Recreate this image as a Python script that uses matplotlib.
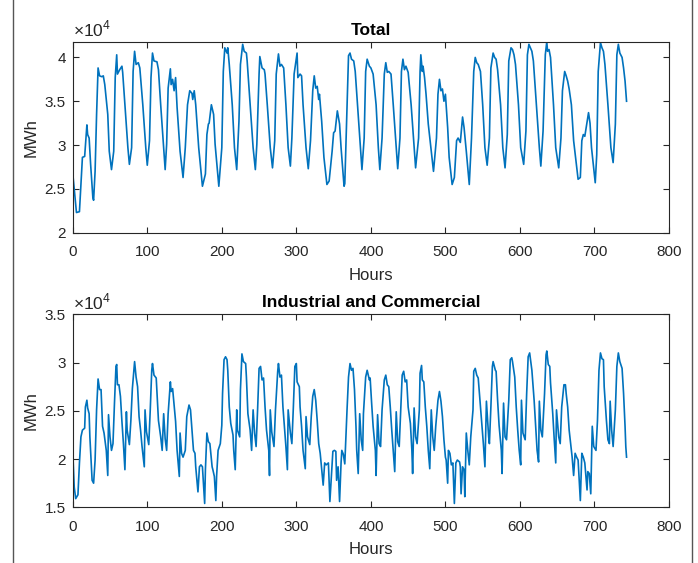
import numpy as np
import matplotlib
matplotlib.use("Agg")
import matplotlib.pyplot as plt
from matplotlib.lines import Line2D
from matplotlib.ticker import FuncFormatter

plt.rcParams['font.family'] = ['Liberation Sans', 'DejaVu Sans']
plt.rcParams['mathtext.fontset'] = 'custom'
plt.rcParams['mathtext.rm'] = 'Liberation Sans'

# ============================================================
# 数据（从图上读出，单位：1e4 MWh）
# ============================================================

hours_total = [0, 5, 9, 11, 13, 16, 19, 20, 22, 24, 27, 28, 30, 32, 34, 36, 39, 41, 43, 47,
               49, 52, 55, 57, 59, 60, 63, 66, 67, 70, 74, 76, 79, 81, 83, 85, 88, 90, 94, 98,
               100, 103, 105, 107, 109, 113, 115, 118, 122, 124, 126, 128, 131, 132, 134, 136, 138, 140, 144, 148,
               151, 154, 157, 160, 161, 163, 165, 169, 174, 178, 180, 182, 183, 186, 189, 191, 196, 200, 202, 204,
               207, 208, 210, 214, 217, 220, 223, 225, 228, 230, 233, 234, 238, 242, 245, 247, 250, 251, 254, 257,
               258, 261, 265, 268, 271, 273, 276, 278, 280, 283, 286, 289, 292, 294, 297, 301, 302, 305, 307, 309,
               313, 316, 319, 322, 324, 326, 328, 330, 331, 334, 337, 341, 344, 348, 350, 352, 355, 358, 360, 364,
               365, 368, 370, 372, 374, 377, 379, 382, 386, 388, 391, 393, 395, 398, 400, 403, 407, 410, 412, 415,
               418, 420, 422, 424, 427, 430, 434, 436, 439, 441, 443, 445, 447, 450, 454, 458, 460, 464, 466, 467,
               469, 470, 472, 474, 477, 481, 484, 488, 490, 492, 494, 496, 498, 500, 503, 505, 509, 512, 515, 517,
               520, 523, 525, 528, 532, 535, 538, 540, 542, 544, 547, 550, 553, 556, 559, 561, 564, 566, 568, 570,
               574, 577, 580, 583, 585, 588, 590, 592, 594, 598, 601, 605, 608, 610, 612, 614, 616, 618, 622, 626,
               628, 631, 634, 636, 637, 639, 641, 645, 648, 652, 655, 657, 660, 662, 664, 666, 669, 672, 678, 681,
               683, 685, 687, 692, 694, 696, 701, 703, 705, 708, 710, 712, 714, 718, 722, 725, 728, 730, 732, 734,
               737, 739, 741, 743]
total = [2.68, 2.23, 2.24, 2.55, 2.86, 2.87, 3.23, 3.12, 3.08, 2.78, 2.40, 2.37, 2.70, 3.35, 3.88, 3.79, 3.78, 3.79, 3.69, 3.35,
         2.93, 2.72, 2.93, 3.77, 4.03, 3.81, 3.86, 3.90, 3.83, 3.46, 2.97, 2.78, 2.97, 3.84, 4.07, 3.92, 3.94, 3.88, 3.46, 2.97,
         2.77, 3.05, 3.77, 4.05, 3.96, 3.95, 3.86, 3.46, 2.97, 2.72, 3.01, 3.65, 3.87, 3.69, 3.75, 3.62, 3.77, 3.43, 2.93, 2.63,
         2.97, 3.46, 3.62, 3.59, 3.52, 3.62, 3.46, 2.97, 2.53, 2.67, 3.12, 3.24, 3.25, 3.46, 3.35, 3.01, 2.53, 2.97, 3.84, 4.11,
         4.05, 4.11, 3.92, 3.46, 2.97, 2.72, 3.27, 3.92, 4.15, 4.07, 4.05, 3.96, 3.46, 2.97, 2.72, 3.01, 3.81, 4.01, 3.88, 3.86,
         3.81, 3.46, 2.97, 2.74, 3.05, 3.81, 4.04, 3.90, 3.92, 3.88, 3.46, 2.97, 2.76, 3.08, 3.81, 4.05, 3.77, 3.81, 3.79, 3.46,
         2.97, 2.73, 3.05, 3.62, 3.79, 3.65, 3.67, 3.52, 3.58, 3.27, 2.86, 2.55, 2.59, 2.93, 3.14, 3.16, 3.39, 3.24, 2.97, 2.53,
         2.56, 3.46, 4.02, 4.05, 3.98, 3.96, 3.84, 3.46, 2.97, 2.72, 3.08, 3.84, 3.98, 3.90, 3.88, 3.81, 3.46, 2.97, 2.72, 3.08,
         3.81, 3.94, 3.83, 3.84, 3.81, 3.46, 2.97, 2.73, 3.08, 3.84, 3.98, 3.86, 3.90, 3.83, 3.46, 2.97, 2.74, 3.08, 3.84, 4.03,
         3.84, 3.90, 3.77, 3.58, 3.24, 2.93, 2.70, 3.08, 3.58, 3.75, 3.62, 3.64, 3.50, 3.58, 3.20, 2.86, 2.55, 2.63, 3.05, 3.08,
         3.03, 3.32, 3.20, 2.93, 2.55, 3.08, 3.84, 4.00, 3.94, 3.92, 3.84, 3.46, 2.97, 2.77, 3.08, 3.88, 4.05, 4.00, 3.98, 3.86,
         3.46, 2.97, 2.74, 3.12, 3.96, 4.11, 4.09, 4.03, 3.92, 3.46, 2.97, 2.78, 3.16, 4.03, 4.15, 4.11, 4.07, 3.96, 3.46, 2.97,
         2.76, 3.16, 4.03, 4.18, 4.07, 4.09, 4.00, 3.46, 2.97, 2.74, 3.08, 3.62, 3.84, 3.79, 3.73, 3.64, 3.46, 3.05, 2.61, 2.63,
         3.05, 3.12, 3.10, 3.37, 3.25, 2.97, 2.57, 2.89, 3.84, 4.17, 4.11, 4.07, 3.92, 3.46, 2.97, 2.80, 3.24, 4.03, 4.15, 4.05,
         4.00, 3.88, 3.73, 3.50]

hours_ic = [0, 2, 4, 7, 9, 11, 13, 16, 17, 19, 20, 22, 23, 26, 28, 30, 32, 34, 36, 38,
            40, 42, 45, 47, 48, 50, 52, 54, 56, 58, 59, 60, 62, 64, 66, 68, 70, 72, 73, 76,
            78, 80, 83, 85, 87, 89, 91, 93, 96, 97, 99, 102, 104, 106, 107, 109, 112, 114, 115, 118,
            120, 122, 124, 126, 128, 131, 132, 134, 136, 138, 140, 143, 144, 146, 148, 151, 153, 156, 158, 160,
            162, 164, 165, 168, 170, 172, 174, 177, 178, 180, 182, 184, 187, 188, 190, 192, 193, 195, 198, 200,
            201, 203, 205, 207, 208, 210, 212, 215, 216, 218, 220, 221, 224, 225, 227, 229, 232, 233, 235, 238,
            240, 242, 244, 246, 248, 250, 252, 254, 256, 258, 260, 263, 264, 265, 267, 270, 272, 275, 276, 278,
            280, 282, 284, 286, 288, 289, 292, 294, 296, 298, 300, 301, 304, 305, 307, 309, 312, 313, 315, 318,
            320, 322, 324, 326, 328, 330, 332, 334, 336, 338, 340, 343, 345, 347, 349, 351, 353, 354, 356, 358,
            360, 361, 363, 365, 368, 370, 372, 374, 376, 378, 380, 381, 383, 385, 387, 389, 390, 393, 395, 398,
            399, 401, 403, 406, 407, 409, 411, 413, 415, 418, 420, 422, 424, 426, 428, 430, 432, 434, 436, 438,
            440, 442, 444, 446, 448, 450, 453, 455, 456, 458, 460, 462, 465, 466, 468, 469, 471, 473, 475, 477,
            479, 481, 483, 485, 487, 490, 492, 494, 496, 498, 500, 501, 503, 504, 506, 508, 510, 512, 514, 516,
            519, 520, 521, 523, 525, 526, 528, 530, 532, 534, 537, 538, 540, 542, 544, 547, 549, 551, 553, 555,
            558, 559, 561, 563, 564, 567, 568, 570, 572, 575, 576, 578, 580, 582, 585, 587, 589, 590, 593, 595,
            597, 599, 601, 602, 604, 607, 609, 611, 613, 614, 616, 619, 621, 623, 625, 626, 628, 630, 633, 635,
            636, 638, 640, 641, 644, 646, 648, 649, 652, 654, 656, 659, 661, 662, 664, 666, 668, 670, 672, 674,
            676, 678, 681, 683, 685, 687, 690, 691, 693, 695, 697, 699, 702, 704, 706, 708, 710, 712, 713, 716,
            718, 720, 721, 723, 725, 728, 730, 732, 734, 737, 739, 741, 742, 743]
ic = [2.09, 1.71, 1.59, 1.63, 1.96, 2.23, 2.30, 2.32, 2.54, 2.61, 2.53, 2.47, 2.23, 1.78, 1.75, 1.99, 2.51, 2.83, 2.72, 2.72,
      2.34, 2.27, 2.09, 1.83, 2.46, 2.23, 2.09, 2.16, 2.58, 2.96, 2.98, 2.77, 2.77, 2.65, 2.39, 2.16, 1.89, 2.49, 2.30, 2.15,
      2.40, 2.73, 3.01, 2.85, 2.75, 2.44, 2.30, 2.13, 1.92, 2.51, 2.28, 2.15, 2.51, 2.92, 2.99, 2.87, 2.84, 2.54, 2.40, 2.23,
      2.09, 2.47, 2.21, 2.09, 2.47, 2.80, 2.70, 2.73, 2.56, 2.39, 2.09, 1.82, 2.27, 2.06, 2.02, 2.09, 2.44, 2.56, 2.51, 2.30,
      2.09, 2.06, 1.92, 1.66, 1.92, 1.94, 1.92, 1.54, 1.89, 2.27, 2.18, 2.16, 1.92, 1.89, 1.82, 1.57, 1.82, 2.09, 2.16, 2.35,
      2.68, 3.03, 3.06, 3.03, 2.92, 2.54, 2.37, 2.25, 2.09, 1.89, 2.51, 2.30, 2.23, 2.72, 3.09, 3.01, 2.99, 2.85, 2.47, 2.30,
      2.09, 2.51, 2.27, 2.13, 2.51, 2.94, 2.96, 2.82, 2.84, 2.54, 2.30, 2.09, 1.83, 2.51, 2.28, 2.13, 2.51, 2.91, 2.99, 2.85,
      2.87, 2.54, 2.34, 2.13, 1.89, 2.51, 2.27, 2.16, 2.54, 2.96, 2.99, 2.80, 2.75, 2.54, 2.34, 2.09, 1.90, 2.44, 2.23, 2.15,
      2.44, 2.65, 2.72, 2.61, 2.40, 2.16, 2.06, 1.89, 1.73, 1.96, 1.94, 1.96, 1.56, 1.82, 2.08, 2.09, 2.08, 1.78, 1.92, 1.56,
      1.96, 2.09, 2.05, 1.95, 2.51, 2.85, 2.99, 2.92, 2.94, 2.72, 2.34, 2.09, 1.85, 2.47, 2.20, 2.09, 2.47, 2.85, 2.92, 2.82,
      2.84, 2.58, 2.34, 2.09, 1.83, 2.46, 2.16, 2.13, 2.51, 2.82, 2.87, 2.77, 2.75, 2.54, 2.30, 2.09, 1.87, 2.49, 2.18, 2.13,
      2.51, 2.87, 2.91, 2.80, 2.82, 2.54, 2.37, 2.09, 1.85, 2.53, 2.23, 2.16, 2.51, 2.89, 2.97, 2.82, 2.80, 2.54, 2.34, 2.09,
      1.90, 2.51, 2.23, 2.09, 2.34, 2.61, 2.70, 2.60, 2.44, 2.20, 2.02, 1.99, 1.75, 2.09, 2.06, 1.94, 1.96, 1.54, 1.96, 1.99,
      1.97, 1.92, 1.64, 1.92, 1.89, 1.61, 2.27, 2.09, 1.94, 2.23, 2.51, 2.91, 2.94, 2.87, 2.84, 2.54, 2.34, 2.15, 1.92, 2.60,
      2.23, 2.16, 2.54, 2.96, 3.01, 2.92, 2.91, 2.61, 2.35, 2.09, 1.85, 2.58, 2.23, 2.20, 2.61, 3.03, 3.05, 3.01, 2.85, 2.54,
      2.30, 2.09, 1.94, 2.61, 2.27, 2.20, 2.68, 3.06, 3.10, 3.04, 2.92, 2.61, 2.34, 2.09, 1.97, 2.60, 2.30, 2.23, 2.68, 3.08,
      3.12, 2.98, 2.96, 2.79, 2.47, 2.20, 1.96, 2.51, 2.23, 2.16, 2.54, 2.77, 2.77, 2.68, 2.54, 2.30, 2.16, 2.02, 1.83, 2.06,
      2.02, 1.99, 1.57, 2.06, 2.02, 1.96, 1.68, 1.87, 1.85, 1.64, 2.34, 2.13, 2.09, 2.40, 2.92, 3.10, 3.04, 3.03, 2.75, 2.40,
      2.20, 2.16, 2.60, 2.30, 2.13, 2.51, 2.96, 3.10, 3.01, 2.94, 2.68, 2.34, 2.13, 2.02]

x_ticks = [0, 100, 200, 300, 400, 500, 600, 700, 800]
panels = [
    ("Total", hours_total, total, (2.0, 4.18), [2, 2.5, 3, 3.5, 4]),
    ("Industrial and Commercial", hours_ic, ic, (1.5, 3.5), [1.5, 2, 2.5, 3, 3.5]),
]

# ============================================================
# 画图
# ============================================================

W, H = 698, 563
fig = plt.figure(figsize=(W / 100, H / 100), dpi=100)
axis_gray = '#262626'
line_blue = '#0072BD'

boxes = [[0.1042, 0.5867, 0.8543, 0.3393], [0.1042, 0.0989, 0.8543, 0.3428]]

for box, (title, hrs, vals, ylim, yticks) in zip(boxes, panels):
    ax = fig.add_axes(box)
    ax.plot(hrs, vals, color=line_blue, linewidth=1.2)
    ax.set_xlim(0, 800)
    ax.set_ylim(*ylim)
    ax.set_xticks(x_ticks)
    ax.set_yticks(yticks)
    ax.yaxis.set_major_formatter(FuncFormatter(lambda v, _: f'{v:g}'))
    ax.tick_params(direction='in', top=True, right=True, length=4, width=0.8,
                   colors=axis_gray, labelsize=11)
    ax.tick_params(axis='x', pad=9)
    ax.tick_params(axis='y', pad=5)
    for s in ax.spines.values():
        s.set_color(axis_gray)
        s.set_linewidth(0.8)
    ax.set_title(title, fontsize=12.5, fontweight='bold', color='black', pad=5)
    ax.set_xlabel('Hours', fontsize=12, color=axis_gray, labelpad=6)
    ax.set_ylabel('MWh', fontsize=12, color=axis_gray, labelpad=4)
    ax.text(0.0, 1.01, r'$\times10^{4}$', transform=ax.transAxes,
            ha='left', va='bottom', fontsize=12.5, color=axis_gray)

# 外框
for xf in (13 / W, 692 / W):
    fig.add_artist(Line2D([xf, xf], [0, 1], transform=fig.transFigure,
                          color='#555555', linewidth=1.0))

fig.savefig('out.png', dpi=100)
